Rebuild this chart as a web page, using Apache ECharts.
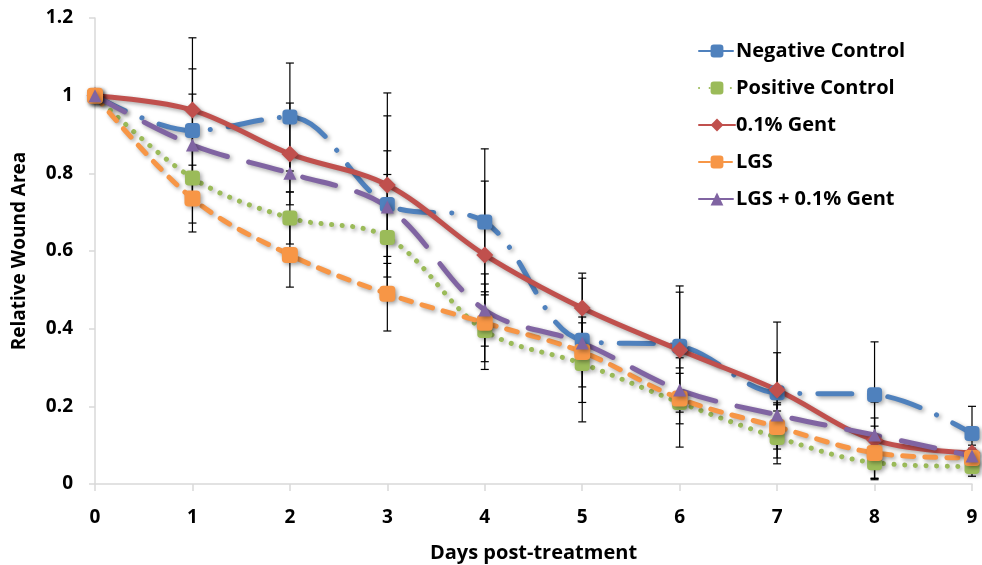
<!DOCTYPE html>
<html>
<head>
<meta charset="utf-8">
<script src="https://cdn.jsdelivr.net/npm/echarts@6/dist/echarts.min.js"></script>
<style>
  html, body { margin: 0; padding: 0; background: #fff; }
  #chart { width: 982px; height: 565px; }
</style>
</head>
<body>
<div id="chart"></div>
<script>
const days = [0, 1, 2, 3, 4, 5, 6, 7, 8, 9];

const negative = [1.0, 0.91, 0.945, 0.72, 0.675, 0.37, 0.355, 0.235, 0.23, 0.13];
const positive = [1.0, 0.788, 0.685, 0.635, 0.395, 0.31, 0.21, 0.12, 0.055, 0.045];
const gent = [1.0, 0.963, 0.85, 0.77, 0.59, 0.453, 0.345, 0.242, 0.113, 0.08];
const lgs = [1.0, 0.735, 0.59, 0.49, 0.415, 0.34, 0.22, 0.147, 0.08, 0.067];
const lgsGent = [1.0, 0.873, 0.8, 0.713, 0.448, 0.363, 0.242, 0.178, 0.126, 0.072];

// error bar half-lengths
const negativeErr = [0, 0.159, 0.139, 0.228, 0.188, 0.16, 0.155, 0.103, 0.136, 0.07];
const positiveErr = [0, 0.116, 0.067, 0.162, 0.1, 0.15, 0.115, 0.068, 0.041, 0.025];
const gentErr = [0, 0.186, 0.131, 0.237, 0.19, 0.09, 0.149, 0.175, 0.098, 0.02];
const lgsErr = [0, 0.086, 0.083, 0.096, 0.1, 0.09, 0.065, 0.057, 0.069, 0.02];
const lgsGentErr = [0, 0.131, 0.048, 0.145, 0.093, 0.052, 0.057, 0.031, 0.044, 0.02];

const yTicks = [0, 0.2, 0.4, 0.6, 0.8, 1, 1.2];

const font = '"Open Sans", Lato, sans-serif';
const shadow = {
  shadowColor: 'rgba(0,0,0,0.35)',
  shadowBlur: 4,
  shadowOffsetX: 2,
  shadowOffsetY: 2
};

const groups = [
  {name: 'Negative Control', vals: negative, err: negativeErr, color: '#4F81BD',
   dash: [34, 18, 0.1, 18], symbol: 'roundRect', size: 15},
  {name: 'Positive Control', vals: positive, err: positiveErr, color: '#9BBB59',
   dash: [0.1, 10.5], symbol: 'roundRect', size: 15},
  {name: '0.1% Gent', vals: gent, err: gentErr, color: '#C0504D',
   dash: 'solid', symbol: 'diamond', size: 17},
  {name: 'LGS', vals: lgs, err: lgsErr, color: '#F79646',
   dash: [11, 11], symbol: 'roundRect', size: 16},
  {name: 'LGS + 0.1% Gent', vals: lgsGent, err: lgsGentErr, color: '#8064A2',
   dash: [34, 22], symbol: 'triangle', size: 13}
];

function errBar(params, api) {
  const x = api.value(0);
  const lo = api.coord([x, api.value(1)]);
  const hi = api.coord([x, api.value(2)]);
  const w = 4;
  const st = {stroke: '#000', lineWidth: 1.2};
  return {
    type: 'group',
    children: [
      {type: 'line', shape: {x1: lo[0], y1: lo[1], x2: hi[0], y2: hi[1]}, style: st},
      {type: 'line', shape: {x1: lo[0] - w, y1: lo[1], x2: lo[0] + w, y2: lo[1]}, style: st},
      {type: 'line', shape: {x1: hi[0] - w, y1: hi[1], x2: hi[0] + w, y2: hi[1]}, style: st}
    ]
  };
}

const series = [];
groups.forEach(g => {
  series.push({
    name: g.name + ' err',
    type: 'custom',
    renderItem: errBar,
    z: 1,
    encode: {x: 0, y: [1, 2]},
    data: days.filter((d, i) => g.err[i] > 0)
      .map(d => [d, g.vals[d] - g.err[d], g.vals[d] + g.err[d]])
  });
});
groups.forEach(g => {
  series.push({
    name: g.name,
    type: 'line',
    z: 3,
    smooth: 0.35,
    symbol: g.symbol,
    symbolSize: g.size,
    color: g.color,
    lineStyle: Object.assign({width: 5, type: g.dash, cap: 'round', color: g.color}, shadow),
    itemStyle: Object.assign({color: g.color}, shadow),
    data: days.map((d, i) => [d, g.vals[i]])
  });
});

const chart = echarts.init(document.getElementById('chart'));
chart.setOption({
  animation: false,
  backgroundColor: '#fff',
  grid: {left: 95, right: 10, top: 18, bottom: 81, containLabel: false, outerBoundsMode: 'none'},
  legend: {
    data: groups.map(g => g.name),
    orient: 'vertical',
    left: 693,
    top: 36,
    itemGap: 17,
    itemWidth: 36,
    itemHeight: 16,
    textStyle: {fontFamily: font, fontWeight: 'bold', fontSize: 20, color: '#000', padding: [0, 0, 0, -4]}
  },
  xAxis: {
    type: 'value',
    min: 0,
    max: 9,
    interval: 1,
    name: 'Days post-treatment',
    nameLocation: 'middle',
    nameGap: 59,
    nameTextStyle: {fontFamily: font, fontWeight: 'bold', fontSize: 20, color: '#000'},
    axisLine: {lineStyle: {color: '#D9D9D9', width: 1.5}},
    axisTick: {show: true, length: 7, lineStyle: {color: '#D9D9D9', width: 1.5}},
    splitLine: {show: false},
    axisLabel: {fontFamily: font, fontWeight: 'bold', fontSize: 19, color: '#000', margin: 24}
  },
  yAxis: {
    type: 'value',
    min: 0,
    max: 1.2,
    interval: 0.2,
    name: 'Relative Wound Area',
    nameLocation: 'middle',
    nameGap: 66,
    nameTextStyle: {fontFamily: font, fontWeight: 'bold', fontSize: 19, color: '#000'},
    axisLine: {show: true, lineStyle: {color: '#D9D9D9', width: 1.5}},
    axisTick: {show: true, length: 6, lineStyle: {color: '#D9D9D9', width: 1.5}},
    splitLine: {show: false},
    axisLabel: {
      fontFamily: font, fontWeight: 'bold', fontSize: 19, color: '#000', margin: 22,
      formatter: v => {
        const t = yTicks.find(k => Math.abs(k - v) < 1e-6);
        return t === undefined ? '' : String(t);
      }
    }
  },
  series: series
});
</script>
</body>
</html>
